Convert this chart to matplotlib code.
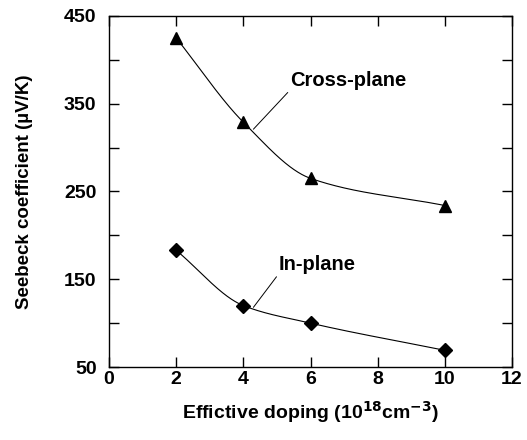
import numpy as np
import matplotlib.pyplot as plt

doping = [2, 4, 6, 10]
cross_plane = [425, 329, 265, 234]
in_plane = [183, 120, 100, 69]

y_major = [50, 150, 250, 350, 450]
y_minor = [100, 200, 300, 400]
x_ticks = [0, 2, 4, 6, 8, 10, 12]


def smooth(x, y, n=200):
    # monotone cubic through the points, only for drawing the line
    x = np.asarray(x, float)
    y = np.asarray(y, float)
    h = np.diff(x)
    s = np.diff(y) / h
    d = np.zeros_like(y)
    for k in range(1, len(x) - 1):
        if s[k - 1] * s[k] > 0:
            w1 = 2 * h[k] + h[k - 1]
            w2 = h[k] + 2 * h[k - 1]
            d[k] = (w1 + w2) / (w1 / s[k - 1] + w2 / s[k])
    d[0] = s[0]
    d[-1] = s[-1]
    xs, ys = [], []
    for i in range(len(x) - 1):
        t = np.linspace(0, 1, n)
        h00 = 2 * t**3 - 3 * t**2 + 1
        h10 = t**3 - 2 * t**2 + t
        h01 = -2 * t**3 + 3 * t**2
        h11 = t**3 - t**2
        xs.append(x[i] + t * h[i])
        ys.append(h00 * y[i] + h10 * h[i] * d[i] + h01 * y[i + 1] + h11 * h[i] * d[i + 1])
    return np.concatenate(xs), np.concatenate(ys)


plt.rcParams['font.family'] = ['Liberation Sans', 'DejaVu Sans']
plt.rcParams['font.weight'] = 'bold'
plt.rcParams['mathtext.default'] = 'bf'

fig = plt.figure(figsize=(5.27, 4.4), dpi=100)
ax = fig.add_axes([109 / 527, 1 - 367 / 440, 403 / 527, 351 / 440])

for ys, mk, ms in [(cross_plane, '^', 8.5), (in_plane, 'D', 7)]:
    sx, sy = smooth(doping, ys)
    ax.plot(sx, sy, color='black', lw=0.8)
    ax.plot(doping, ys, ls='none', marker=mk, ms=ms, color='black')

ax.annotate('Cross-plane', xy=(4.3, 321), xytext=(5.4, 366),
            fontsize=14.5, fontweight='bold', va='bottom', ha='left',
            arrowprops=dict(arrowstyle='-', color='black', lw=0.7,
                            shrinkA=0, shrinkB=0, relpos=(0, 0)))
ax.annotate('In-plane', xy=(4.3, 118), xytext=(5.05, 156),
            fontsize=14.5, fontweight='bold', va='bottom', ha='left',
            arrowprops=dict(arrowstyle='-', color='black', lw=0.7,
                            shrinkA=0, shrinkB=0, relpos=(0, 0)))

ax.set_xlim(0, 12)
ax.set_ylim(50, 450)
ax.set_xticks(x_ticks)
ax.set_yticks(y_major)
ax.set_yticks(y_minor, minor=True)
ax.tick_params(which='both', direction='in', top=True, right=True,
               labelsize=14, width=1, length=7)
ax.tick_params(axis='x', pad=3)
ax.tick_params(axis='y', pad=9)
for lab in ax.get_xticklabels() + ax.get_yticklabels():
    lab.set_fontweight('bold')
for s in ax.spines.values():
    s.set_linewidth(1)

ax.set_xlabel(r'Effictive doping (10$^{18}$cm$^{-3}$)',
              fontsize=14, fontweight='bold', labelpad=8)
ax.set_ylabel('Seebeck coefficient (\u00b5V/K)', fontsize=13.5,
              fontweight='bold', labelpad=22)

fig.savefig('out.png', dpi=100)
